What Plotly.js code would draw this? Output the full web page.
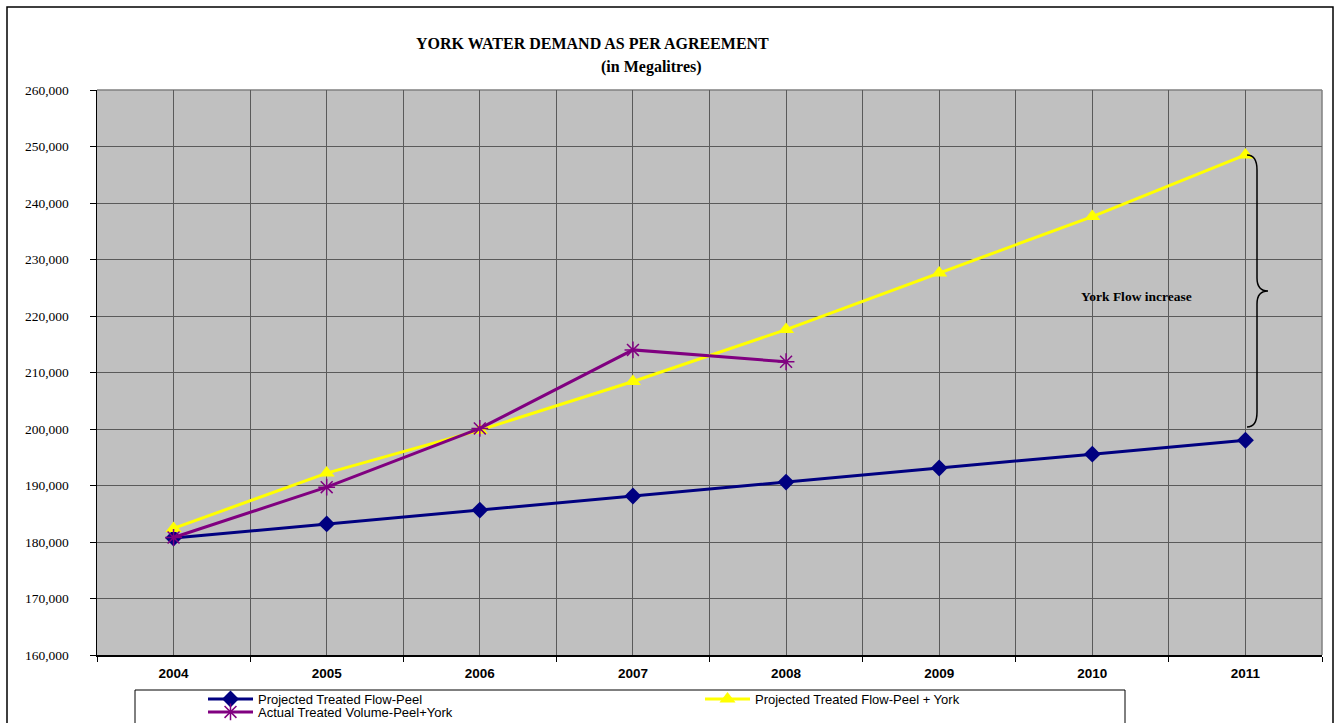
<!DOCTYPE html>
<html>
<head>
<meta charset="utf-8">
<script src="https://cdn.plot.ly/plotly-3.0.1.min.js"></script>
<style>html,body{margin:0;padding:0;background:#fff;}#chart{width:1335px;height:723px;}</style>
</head>
<body>
<div id="chart"></div>
<script>
// ---- data ----
const years = [2004, 2005, 2006, 2007, 2008, 2009, 2010, 2011];
const actualYears = [2004, 2005, 2006, 2007, 2008];
const projectedPeel = [180700, 183200, 185650, 188150, 190600, 193100, 195550, 198000];
const projectedPeelYork = [182400, 192200, 199800, 208400, 217600, 227600, 237600, 248500];
const actualPeelYork = [180800, 189700, 200100, 214000, 211900];
const seriesNames = ["Projected Treated Flow-Peel", "Projected Treated Flow-Peel + York", "Actual Treated Volume-Peel+York"];
const yTicks = [160000, 170000, 180000, 190000, 200000, 210000, 220000, 230000, 240000, 250000, 260000];

// ---- layout geometry helpers (pixel -> paper) ----
const W = 1335, H = 723, L = 97, R = 1322, T = 90, B = 655;
const px = x => (x - L) / (R - L);
const py = y => (B - y) / (B - T);

const traces = [
  {x: years, y: projectedPeel, name: seriesNames[0], type: 'scatter', mode: 'lines+markers', legend: 'legend',
   line: {color: '#000080', width: 3}, marker: {symbol: 'diamond', size: 13, color: '#000080'}},
  {x: years, y: projectedPeelYork, name: seriesNames[1], type: 'scatter', mode: 'lines+markers', legend: 'legend',
   line: {color: '#FFFF00', width: 3}, marker: {symbol: 'triangle-up', size: 14, color: '#FFFF00'}},
  {x: actualYears, y: actualPeelYork, name: seriesNames[2], type: 'scatter', mode: 'lines+markers', legend: 'legend2',
   line: {color: '#800080', width: 3}, marker: {symbol: 'asterisk-open', size: 14, color: '#800080', line: {color: '#800080', width: 1.5}}}
];

function bracePath() {
  const P = (x, y) => px(x).toFixed(5) + ',' + py(y).toFixed(5);
  return 'M' + P(1247,155) + ' Q' + P(1257,155) + ' ' + P(1257,170) +
         ' L' + P(1257,278) + ' Q' + P(1257,291) + ' ' + P(1268,291) +
         ' Q' + P(1257,291) + ' ' + P(1257,304) + ' L' + P(1257,412) +
         ' Q' + P(1257,427) + ' ' + P(1247,427);
}

const legendFont = {family: 'Liberation Sans, Arial, sans-serif', size: 13, color: '#000'};

const layout = {
  width: W, height: H,
  margin: {l: L, r: W - R, t: T, b: H - B, pad: 0, autoexpand: false},
  paper_bgcolor: '#ffffff',
  plot_bgcolor: '#C0C0C0',
  showlegend: true,
  font: {family: 'Liberation Sans, Arial, sans-serif', color: '#000'},
  xaxis: {
    type: 'linear', range: [2003.5, 2011.5], tickvals: years, ticktext: years.map(String),
    showgrid: true, gridcolor: '#5a5a5a', gridwidth: 1,
    ticks: '', showline: true, linecolor: '#000', linewidth: 1.5, zeroline: false,
    tickfont: {family: 'Liberation Sans, Arial, sans-serif', size: 13.5, color: '#000', weight: 'bold'},
    ticklabelstandoff: 5,
    minor: {tick0: 2003.5, dtick: 1, showgrid: true, gridcolor: '#5a5a5a', gridwidth: 1, ticks: 'outside', ticklen: 5, tickcolor: '#000', tickwidth: 1}
  },
  yaxis: {
    range: [160000, 260000], tickvals: yTicks, tickformat: ',d',
    showgrid: true, gridcolor: '#5a5a5a', gridwidth: 1,
    ticks: 'outside', ticklen: 6, tickcolor: '#000', tickwidth: 1,
    showline: true, linecolor: '#000', linewidth: 1.5, zeroline: false,
    tickfont: {family: 'Liberation Serif, Times New Roman, serif', size: 13.5, color: '#000'},
    ticklabelstandoff: 18
  },
  legend: {
    orientation: 'h', x: px(203), xanchor: 'left', y: py(684), yanchor: 'top',
    bgcolor: 'rgba(0,0,0,0)', borderwidth: 0, font: legendFont,
    entrywidth: 437, entrywidthmode: 'pixels', itemwidth: 45, tracegroupgap: 0
  },
  legend2: {
    orientation: 'h', x: px(203), xanchor: 'left', y: py(697), yanchor: 'top',
    bgcolor: 'rgba(0,0,0,0)', borderwidth: 0, font: legendFont,
    entrywidth: 437, entrywidthmode: 'pixels', itemwidth: 45, tracegroupgap: 0
  },
  shapes: [
    // outer chart border
    {type: 'rect', xref: 'paper', yref: 'paper', x0: px(7), x1: px(1333), y0: py(740), y1: py(7),
     line: {color: '#000', width: 1.5}, fillcolor: 'rgba(0,0,0,0)', layer: 'below'},
    // plot area top/right border
    {type: 'line', xref: 'paper', yref: 'paper', x0: 0, x1: 1, y0: 1, y1: 1, line: {color: '#808080', width: 1.5}, layer: 'below'},
    {type: 'line', xref: 'paper', yref: 'paper', x0: 1, x1: 1, y0: 0, y1: 1, line: {color: '#808080', width: 1.5}, layer: 'below'},
    // legend box
    {type: 'rect', xref: 'paper', yref: 'paper', x0: px(135), x1: px(1125), y0: py(740), y1: py(690),
     line: {color: '#000', width: 1}, fillcolor: '#ffffff', layer: 'above'},
    // curly brace
    {type: 'path', xref: 'paper', yref: 'paper', path: bracePath(), line: {color: '#000', width: 1.5}, layer: 'above'}
  ],
  annotations: [
    {xref: 'paper', yref: 'paper', x: px(592), y: py(44), xanchor: 'center', yanchor: 'middle', showarrow: false,
     text: 'YORK WATER DEMAND AS PER AGREEMENT', font: {family: 'Liberation Serif, Times New Roman, serif', size: 16, color: '#000', weight: 'bold'}},
    {xref: 'paper', yref: 'paper', x: px(651), y: py(67), xanchor: 'center', yanchor: 'middle', showarrow: false,
     text: '(in Megalitres)', font: {family: 'Liberation Serif, Times New Roman, serif', size: 16, color: '#000', weight: 'bold'}},
    {xref: 'paper', yref: 'paper', x: px(1136), y: py(296), xanchor: 'center', yanchor: 'middle', showarrow: false,
     text: 'York Flow increase', font: {family: 'Liberation Serif, Times New Roman, serif', size: 13.5, color: '#000', weight: 'bold'}}
  ]
};

Plotly.newPlot('chart', traces, layout, {displayModeBar: false, staticPlot: true});
</script>
</body>
</html>
